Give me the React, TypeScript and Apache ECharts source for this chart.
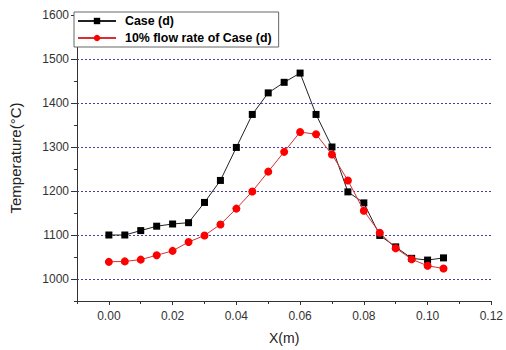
import React, { useEffect, useRef } from "react";
import * as echarts from "echarts";

const xValues = [0, 0.005, 0.01, 0.015, 0.02, 0.025, 0.03, 0.035, 0.04, 0.045, 0.05, 0.055, 0.06, 0.065, 0.07, 0.075, 0.08, 0.085, 0.09, 0.095, 0.1, 0.105];
const caseD = [1100, 1100, 1110, 1120, 1125, 1128, 1174, 1224, 1299, 1374, 1423, 1447, 1468, 1374, 1300, 1198, 1173, 1099, 1073, 1047, 1043, 1048];
const flow10 = [1039, 1040, 1044, 1054, 1064, 1084, 1099, 1124, 1160, 1199, 1244, 1289, 1334, 1329, 1283, 1224, 1155, 1105, 1070, 1045, 1030, 1024];
const seriesNames = ["Case (d)", "10% flow rate of Case (d)"];
const yMajorTicks = [1000, 1100, 1200, 1300, 1400, 1500, 1600];
const yMinorTicks = [950, 1050, 1150, 1250, 1350, 1450, 1550];
const gridValues = [1000, 1100, 1200, 1300, 1400, 1500];
const xMajorTicks = [0, 0.02, 0.04, 0.06, 0.08, 0.1, 0.12];
const xMinorTicks = [-0.01, 0.01, 0.03, 0.05, 0.07, 0.09, 0.11];

export default function App() {
  const ref = useRef<HTMLDivElement>(null);
  useEffect(() => {
    document.body.style.margin = "0";
    if (!ref.current) return;
    const chart = echarts.init(ref.current, null, { renderer: "svg" });
    const font = "Liberation Sans, Arial, sans-serif";
    const axisLineStyle = { color: "#333", width: 1 };
    chart.setOption({
      animation: false,
      backgroundColor: "#fff",
      grid: { left: 70, right: 13, top: 15, bottom: 48 },
      legend: {
        orient: "vertical",
        left: 74,
        top: 12,
        itemWidth: 38,
        itemHeight: 8,
        itemGap: 5,
        padding: [3, 7, 3, 3],
        borderColor: "#666",
        borderWidth: 1,
        backgroundColor: "#fff",
        textStyle: { fontFamily: font, fontSize: 12.4, fontWeight: "bold", color: "#000", padding: [0, 0, 0, 4] },
        data: seriesNames,
      },
      xAxis: [
        {
          type: "value",
          min: -0.01,
          max: 0.12,
          name: "X(m)",
          nameLocation: "middle",
          nameGap: 30,
          nameTextStyle: { fontFamily: font, fontSize: 14, color: "#222" },
          axisLine: { show: true, onZero: false, lineStyle: axisLineStyle },
          axisTick: { show: true, length: 4, customValues: xMajorTicks, lineStyle: axisLineStyle },
          axisLabel: {
            customValues: xMajorTicks,
            margin: 9,
            fontFamily: font,
            fontSize: 12,
            color: "#333",
            formatter: (v: number) => v.toFixed(2),
          },
          splitLine: { show: false },
        },
        {
          type: "value",
          min: -0.01,
          max: 0.12,
          position: "bottom",
          axisLine: { show: false, onZero: false },
          axisTick: { show: true, length: 3, customValues: xMinorTicks, lineStyle: axisLineStyle },
          axisLabel: { show: false },
          splitLine: { show: false },
        },
      ],
      yAxis: [
        {
          type: "value",
          min: 950,
          max: 1600,
          name: "Temperature(°C)",
          nameLocation: "middle",
          nameGap: 54,
          nameTextStyle: { fontFamily: font, fontSize: 15, color: "#222" },
          axisLine: { show: true, onZero: false, lineStyle: axisLineStyle },
          axisTick: { show: true, length: 6, customValues: yMajorTicks, lineStyle: axisLineStyle },
          axisLabel: {
            customValues: yMajorTicks,
            margin: 8,
            fontFamily: font,
            fontSize: 12,
            color: "#333",
            formatter: (v: number) => String(v),
          },
          splitLine: { show: false },
        },
        {
          type: "value",
          min: 950,
          max: 1600,
          position: "left",
          axisLine: { show: false, onZero: false },
          axisTick: { show: true, length: 3, customValues: yMinorTicks, lineStyle: axisLineStyle },
          axisLabel: { show: false },
          splitLine: { show: false },
        },
      ],
      series: [
        {
          name: seriesNames[0],
          type: "line",
          xAxisIndex: 0,
          yAxisIndex: 0,
          data: xValues.map((x, i) => [x, caseD[i]]),
          symbol: "rect",
          symbolSize: 7,
          itemStyle: { color: "#000" },
          lineStyle: { color: "#222", width: 1 },
          z: 3,
          markLine: {
            silent: true,
            symbol: "none",
            label: { show: false },
            lineStyle: { color: "#4040a0", width: 1, type: [2, 2] },
            data: gridValues.map((v) => ({ yAxis: v })),
            z: 1,
          },
        },
        {
          name: seriesNames[1],
          type: "line",
          xAxisIndex: 0,
          yAxisIndex: 0,
          data: xValues.map((x, i) => [x, flow10[i]]),
          symbol: "circle",
          symbolSize: 8,
          itemStyle: { color: "#ff0000" },
          lineStyle: { color: "#d83030", width: 1 },
          z: 4,
        },
      ],
    });
    return () => chart.dispose();
  }, []);
  return <div ref={ref} style={{ width: 506, height: 350 }} />;
}
